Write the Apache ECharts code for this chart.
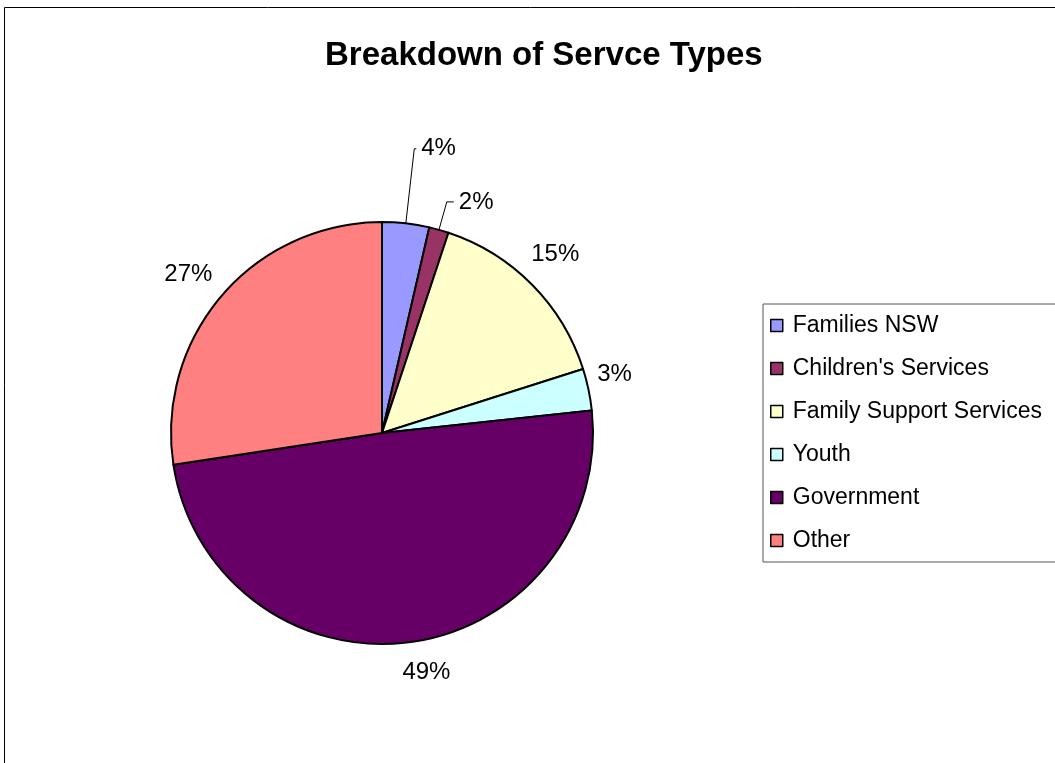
<!DOCTYPE html>
<html>
<head>
<meta charset="utf-8">
<script src="https://cdn.jsdelivr.net/npm/echarts@6/dist/echarts.min.js"></script>
<style>
  html, body { margin: 0; padding: 0; background: #fff; }
  #chart { width: 1055px; height: 763px; }
</style>
</head>
<body>
<div id="chart"></div>
<script>
// data (percent of total)
var categories = ['Families NSW', "Children's Services", 'Family Support Services', 'Youth', 'Government', 'Other'];
var values = [3.6, 1.5, 15.0, 3.2, 49.3, 27.4];
var colors = ['#9999FF', '#993366', '#FFFFCC', '#CCFFFF', '#660066', '#FF8080'];

// leader line lengths per slice (only the two thin ones show a line)
var lineShow = [true, true, false, false, false, false];
var lineLen = [75, 29, 24, 12, 18, 14];
var lineLen2 = [2, 7, 0, 0, 0, 0];
// small nudges so the labels sit where Excel put them
var labelDx = [0, 0, -23, -8, -14, 6];
var labelDy = [0, 0, -14, -13, 12, -12];

var myChart = echarts.init(document.getElementById('chart'));

var pieData = categories.map(function (name, i) {
  return {
    name: name,
    value: values[i],
    itemStyle: { color: colors[i] },
    labelLine: { show: lineShow[i], length: lineLen[i], length2: lineLen2[i] }
  };
});

var option = {
  backgroundColor: '#fff',
  animation: false,
  title: {
    text: 'Breakdown of Servce Types',
    left: 320,
    top: 34,
    textStyle: { fontFamily: 'Liberation Sans', fontSize: 33, fontWeight: 'bold', color: '#000' }
  },
  legend: {
    orient: 'vertical',
    left: 763,
    top: 304,
    padding: [10, 20, 10, 7],
    itemWidth: 12,
    itemHeight: 12,
    itemGap: 20,
    icon: 'rect',
    borderColor: '#555',
    borderWidth: 1,
    backgroundColor: '#fff',
    textStyle: { fontFamily: 'Liberation Sans', fontSize: 23, color: '#000', padding: [0, 0, 0, 5] },
    itemStyle: { borderColor: '#000', borderWidth: 1.5 },
    data: categories
  },
  graphic: [{
    type: 'rect',
    shape: { x: 4.5, y: 7.5, width: 1100, height: 800 },
    style: { fill: 'none', stroke: '#000', lineWidth: 1 },
    z: -1
  }],
  series: [{
    type: 'pie',
    center: [382, 433],
    radius: 211,
    startAngle: 90,
    clockwise: true,
    avoidLabelOverlap: false,
    itemStyle: { borderColor: '#000', borderWidth: 2 },
    emphasis: { disabled: true },
    label: {
      show: true,
      position: 'outside',
      fontFamily: 'Liberation Sans',
      fontSize: 24,
      color: '#000',
      formatter: function (p) { return Math.round(p.percent) + '%'; }
    },
    labelLine: {
      lineStyle: { color: '#000', width: 1 }
    },
    labelLayout: function (p) {
      if (lineShow[p.dataIndex]) return {};
      return { dx: labelDx[p.dataIndex], dy: labelDy[p.dataIndex] };
    },
    data: pieData
  }]
};

myChart.setOption(option);
</script>
</body>
</html>
